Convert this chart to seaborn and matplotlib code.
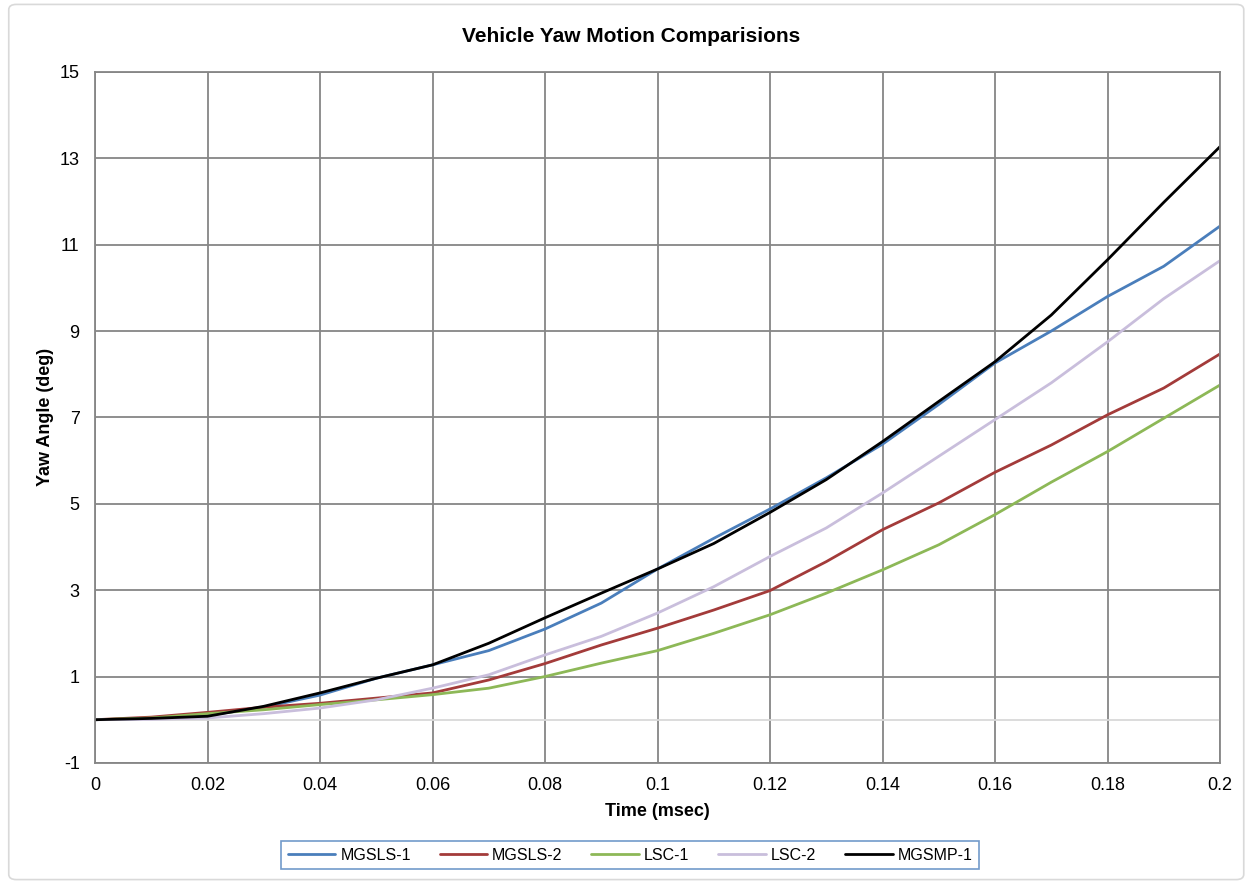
import matplotlib
matplotlib.use("Agg")
import matplotlib.pyplot as plt
from matplotlib.patches import FancyBboxPatch
import seaborn as sns
import pandas as pd
import numpy as np

# time axis (msec)
time = [0.0, 0.01, 0.02, 0.03, 0.04, 0.05, 0.06, 0.07, 0.08, 0.09, 0.10,
        0.11, 0.12, 0.13, 0.14, 0.15, 0.16, 0.17, 0.18, 0.19, 0.20]

mgsls_1 = [0.0, 0.03, 0.10, 0.29, 0.57, 0.96, 1.27, 1.60, 2.10, 2.70, 3.49,
           4.20, 4.88, 5.60, 6.38, 7.30, 8.26, 9.00, 9.80, 10.50, 11.43]
mgsls_2 = [0.0, 0.06, 0.17, 0.29, 0.38, 0.50, 0.62, 0.92, 1.30, 1.73, 2.12,
           2.54, 2.99, 3.66, 4.40, 5.02, 5.73, 6.36, 7.06, 7.68, 8.47]
lsc_1 = [0.0, 0.04, 0.14, 0.23, 0.35, 0.46, 0.58, 0.73, 1.00, 1.31, 1.60,
         2.00, 2.43, 2.93, 3.47, 4.05, 4.75, 5.50, 6.21, 6.98, 7.75]
lsc_2 = [0.0, 0.01, 0.04, 0.14, 0.27, 0.46, 0.73, 1.04, 1.50, 1.93, 2.47,
         3.08, 3.78, 4.44, 5.25, 6.10, 6.95, 7.80, 8.75, 9.75, 10.63]
mgsmp_1 = [0.0, 0.03, 0.08, 0.31, 0.62, 0.96, 1.27, 1.77, 2.36, 2.93, 3.49,
           4.08, 4.80, 5.56, 6.44, 7.37, 8.29, 9.37, 10.65, 11.98, 13.27]

series = {
    "MGSLS-1": mgsls_1,
    "MGSLS-2": mgsls_2,
    "LSC-1": lsc_1,
    "LSC-2": lsc_2,
    "MGSMP-1": mgsmp_1,
}
colors = ["#4A7EBB", "#A33B3A", "#8DB857", "#C9BEDC", "#000000"]

df = pd.concat(
    [pd.DataFrame({"Time": time, "Yaw": vals, "Series": name}) for name, vals in series.items()],
    ignore_index=True,
)

sns.set_style("white")
plt.rcParams["font.family"] = ["Liberation Sans", "DejaVu Sans"]
plt.rcParams["axes.unicode_minus"] = False
plt.rcParams["text.color"] = "black"
plt.rcParams["xtick.color"] = "black"
plt.rcParams["ytick.color"] = "black"
plt.rcParams["axes.labelcolor"] = "black"

fig = plt.figure(figsize=(12.5, 8.84), dpi=100)
ax = fig.add_axes([0.076, 0.137, 0.9, 0.7816])

# outer chart border
fig.patches.append(FancyBboxPatch((0.007, 0.005), 0.988, 0.99, boxstyle="round,pad=0,rounding_size=0.006",
                                  transform=fig.transFigure, fill=False, edgecolor="#D9D9D9", lw=1.2))

sns.lineplot(data=df, x="Time", y="Yaw", hue="Series", palette=colors, ax=ax,
             linewidth=2.0, legend=True)

ax.set_xlim(0, 0.2)
ax.set_ylim(-1, 15)
ax.set_xticks(np.arange(0, 0.2001, 0.02))
ax.set_xticklabels(["0", "0.02", "0.04", "0.06", "0.08", "0.1", "0.12", "0.14", "0.16", "0.18", "0.2"])
ax.set_yticks(np.arange(-1, 15.01, 2))
ax.grid(True, color="#868686", lw=1.3)
ax.axhline(0, color="#D9D9D9", lw=1.3, zorder=1)
for s in ax.spines.values():
    s.set_color("#868686")
    s.set_linewidth(1.3)
ax.tick_params(length=0, labelsize=13)
ax.tick_params(axis="x", pad=10)
ax.tick_params(axis="y", pad=11)

ax.set_xlabel("Time (msec)", fontsize=13, fontweight="bold")
ax.set_ylabel("Yaw Angle (deg)", fontsize=13, fontweight="bold")
ax.xaxis.set_label_coords(0.5, -0.058)
ax.yaxis.set_label_coords(-0.036, 0.5)
fig.text(0.505, 0.959, "Vehicle Yaw Motion Comparisions", fontsize=15, fontweight="bold",
         ha="center", va="center")

handles, labels = ax.get_legend_handles_labels()
leg = fig.legend(handles, labels, loc="center", bbox_to_anchor=(0.504, 0.0325), ncol=5,
                 frameon=True, fancybox=False, fontsize=11.5, handlelength=3.0,
                 columnspacing=1.8, borderpad=0.4, handletextpad=0.3)
leg.get_frame().set_edgecolor("#4F81BD")
leg.get_frame().set_linewidth(1.2)
ax.get_legend().remove()

fig.savefig("out.png", dpi=100)
